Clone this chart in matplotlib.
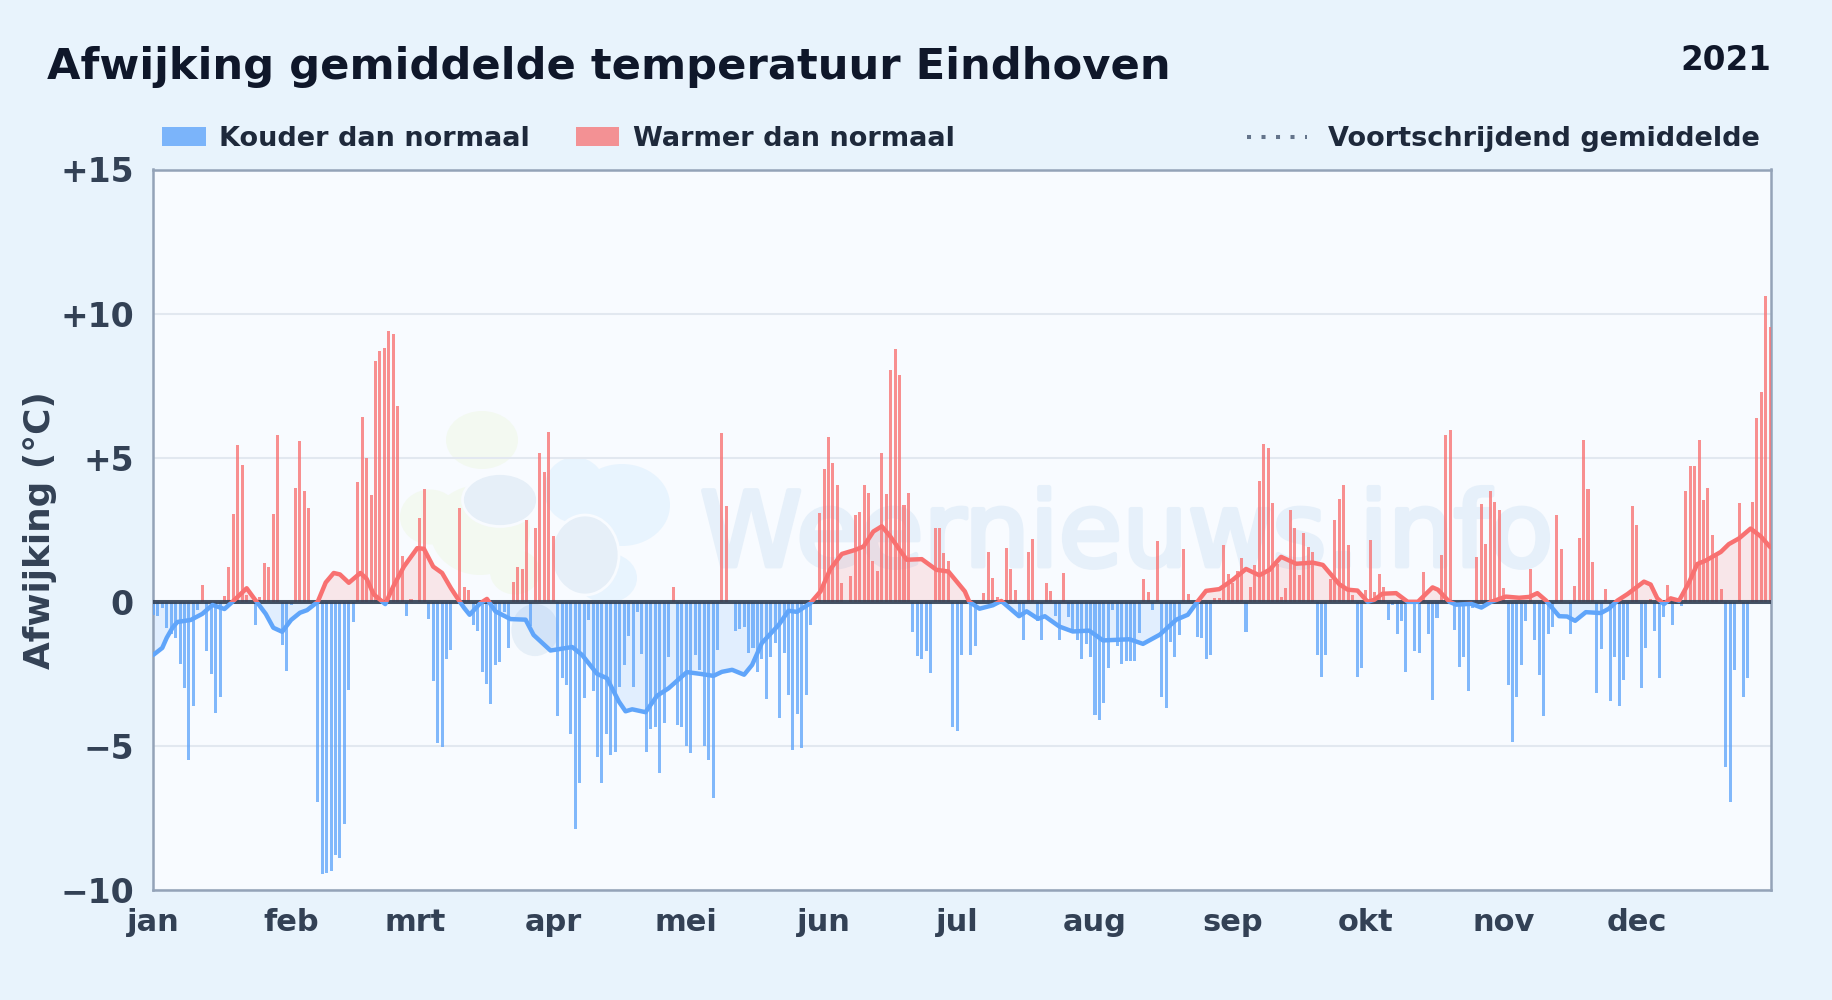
# -*- coding: utf-8 -*-
"""Afwijking gemiddelde temperatuur Eindhoven, 2021."""
import numpy as np
import matplotlib
matplotlib.use('Agg')
import matplotlib.pyplot as plt
import matplotlib.patheffects as pe
from matplotlib.lines import Line2D
from matplotlib.patches import Ellipse, Patch, Rectangle
from matplotlib.transforms import IdentityTransform

# afwijking per dag (365 waarden, 1 jan t/m 31 dec)
afwijking = [
    -0.45, -0.5, -0.2, -0.9, -1.1, -1.25, -2.15, -3.0, -5.5, -3.6,
    -0.3, 0.6, -1.7, -2.5, -3.85, -3.3, 0.2, 1.2, 3.05, 5.45,
    4.75, 0.25, 0, -0.8, 0.15, 1.35, 1.2, 3.05, 5.8, -1.5,
    -2.4, -0.1, 3.95, 5.57, 3.85, 3.25, 0, -6.95, -9.45, -9.4,
    -9.35, -8.8, -8.9, -7.7, -3.05, -0.7, 4.15, 6.4, 5.0, 3.7,
    8.35, 8.7, 8.8, 9.4, 9.3, 6.8, 1.6, -0.5, 0.1, 0,
    2.9, 3.9, -0.6, -2.75, -4.9, -5.05, -2.0, -1.67, 0, 3.25,
    0.5, 0.4, -0.8, -1.0, -2.45, -2.85, -3.55, -2.2, -2.1, -0.35,
    -1.6, 0.7, 1.2, 1.15, 2.85, -0.85, 2.55, 5.15, 4.5, 5.9,
    2.3, -3.95, -2.65, -2.87, -4.6, -7.9, -6.27, -3.35, -0.62, -3.08,
    -5.37, -6.3, -4.6, -5.32, -5.2, -2.94, -2.2, -1.17, -2.94, -0.37,
    -1.8, -5.2, -4.4, -4.33, -5.93, -4.2, -1.93, 0.5, -4.26, -4.36,
    -5.02, -5.25, -1.84, -2.36, -5.0, -5.5, -6.8, -1.67, 5.85, 3.33,
    0, -1.0, -0.95, -0.86, -1.78, -1.6, -2.42, -2.0, -3.38, -1.93,
    -1.43, -4.04, -1.76, -3.23, -5.14, -3.9, -5.08, -3.22, -0.8, 0,
    3.08, 4.62, 5.72, 4.81, 4.06, 0.65, 0, 0.9, 3.02, 3.11,
    4.06, 3.77, 1.42, 1.08, 5.16, 3.75, 8.05, 8.77, 7.88, 3.37,
    3.77, -1.06, -1.87, -1.97, -1.72, -2.48, 2.56, 2.56, 1.69, 1.41,
    -4.33, -4.47, -1.86, 0, -1.86, -1.52, 0, 0.3, 1.72, 0.82,
    0.16, 0, 1.86, 1.15, 0.42, -0.53, -1.32, 1.72, 2.17, -0.68,
    -1.34, 0.65, 0.37, -0.5, -1.34, 1.0, -0.54, -0.97, -1.32, -2.0,
    -1.45, -1.93, -3.92, -4.1, -3.5, -2.28, -0.28, -1.55, -2.15, -2.07,
    -2.07, -2.07, -1.09, 0.8, 0.34, -0.3, 2.1, -3.32, -3.7, -1.38,
    -1.9, -1.15, 1.83, 0.28, 0, -1.23, -1.27, -1.98, -1.83, 0.14,
    0.14, 1.97, 0.97, 0.65, 1.08, 1.53, -1.04, 0.53, 1.28, 4.2,
    5.48, 5.34, 3.42, 1.3, 0.17, 0.47, 3.19, 2.57, 0.94, 2.38,
    1.91, 1.72, -1.86, -2.6, -1.86, 0.8, 2.85, 3.58, 4.05, 1.98,
    0.24, -2.6, -2.28, 0.42, 2.15, 0.35, 0.97, 0.52, -0.62, -0.1,
    -1.11, -0.65, -2.42, 0, -1.69, -1.76, 1.03, -1.11, -3.4, -0.55,
    1.63, 5.8, 5.97, -0.97, -2.25, -1.9, -3.08, -0.2, 1.55, 3.4,
    2.0, 3.84, 3.47, 3.2, 0.47, -2.88, -4.85, -3.3, -2.19, -0.68,
    1.15, -1.32, -2.53, -3.97, -1.13, -0.86, 3.02, 1.83, 0, -1.13,
    0.55, 2.2, 5.63, 3.91, 1.37, -3.16, -1.65, 0.45, -3.45, -1.9,
    -3.62, -2.72, -1.93, 3.32, 2.67, -3.0, -1.61, 0.1, -1.0, -2.66,
    -0.54, 0.58, -0.79, -0.08, -0.15, 3.84, 4.71, 4.71, 5.63, 3.52,
    3.94, 2.33, 1.61, 0.45, -5.74, -6.96, -2.37, 3.42, -3.32, -2.66,
    3.46, 6.37, 7.28, 10.6, 9.53,
]

gem_dag = [
    0, 2, 3, 4.3, 5.4, 8.4, 11, 13.3, 16, 17.8, 21, 23, 25.3, 27, 29, 31, 33, 34.6, 37,
    38.8, 40.6, 42, 44, 46.6, 48, 49.6, 52.2, 54, 56.4, 59.4, 60.9, 63, 65, 67, 69, 70,
    71.2, 73.6, 75.1, 77, 80.4, 83.8, 85.6, 89.4, 94.3, 96.5, 99.9, 102.1, 104.8, 106.3,
    107.8, 110.8, 113.4, 116, 120.1, 123.1, 126.1, 128, 130.3, 133, 134.8, 137, 140.8,
    143, 144.9, 147.9, 150.2, 152.4, 155, 158, 159.9, 162.1, 164, 165.9, 169.6, 173,
    176.3, 179, 182.7, 183.7, 186, 189, 190.9, 194.9, 196.6, 199.2, 200.7, 204, 207,
    210.7, 213.8, 219.8, 222.8, 226.6, 230.3, 232.9, 234.8, 237, 240, 243, 246, 249,
    251.3, 253.9, 257.3, 261, 263.3, 267, 268.9, 271.1, 273.4, 274.9, 276.7, 279.8,
    282.4, 284.7, 288, 289.2, 291.8, 293.3, 296.7, 299, 301.2, 304.5, 307.5, 309.8,
    311.6, 313.5, 316.5, 318.3, 320.1, 322.5, 325.9, 327.7, 329.6, 331.9, 335.6, 337.1,
    338.6, 340.1, 341.6, 343.5, 345.7, 347.6, 349.5, 352.9, 354.7, 357, 359.6, 361.9, 364,
]
gem_waarde = [
    -1.84, -1.6, -1.25, -0.9, -0.7, -0.63, -0.42, -0.11, -0.25, 0, 0.47, 0.05, -0.42, -0.9, -1.04, -0.63, -0.38, -0.29, 0,
    0.67, 1.0, 0.95, 0.66, 1.0, 0.8, 0.26, -0.08, 0.53, 1.22, 1.86, 1.84, 1.22, 1.0, 0.47, 0, -0.22,
    -0.45, -0.05, 0.1, -0.33, -0.6, -0.62, -1.15, -1.69, -1.57, -1.84, -2.5, -2.65, -3.46, -3.8,
    -3.73, -3.83, -3.26, -3.0, -2.44, -2.5, -2.57, -2.43, -2.36, -2.53, -2.19, -1.43, -0.8,
    -0.31, -0.35, -0.05, 0.36, 1.13, 1.66, 1.8, 1.92, 2.44, 2.62, 2.27, 1.46, 1.48,
    1.11, 1.05, 0.36, 0, -0.24, -0.12, 0.03, -0.5, -0.33, -0.59, -0.5, -0.86, -1.03,
    -1.0, -1.34, -1.3, -1.46, -1.14, -0.62, -0.45, -0.05, 0.38, 0.44, 0.76, 1.14, 0.92,
    1.11, 1.56, 1.32, 1.36, 1.28, 0.61, 0.42, 0.39, 0, 0.07, 0.28, 0.3,
    0, 0, 0.5, 0.42, 0, -0.1, -0.07, -0.2, 0, 0.18, 0.14, 0.17,
    0.3, 0.05, -0.5, -0.51, -0.66, -0.36, -0.39, -0.24, 0.04, 0.27, 0.7, 0.6,
    0.12, -0.08, 0.12, 0.04, 0.66, 1.31, 1.43, 1.73, 2.0, 2.2, 2.54, 2.27, 1.9,
]

maand_start = [0, 31, 59, 90, 120, 151, 181, 212, 243, 273, 304, 334]
maand_label = ['jan', 'feb', 'mrt', 'apr', 'mei', 'jun', 'jul', 'aug', 'sep', 'okt', 'nov', 'dec']
y_ticks = [15, 10, 5, 0, -5, -10]
y_labels = ['+15', '+10', '+5', '0', '\u22125', '\u221210']

BLAUW = '#60a5fa'
ROOD = '#f87171'
W, H = 1832, 1000


def px(x, y):
    """Pixel van de referentie (y omlaag) naar display-coordinaten."""
    return x, H - y


fig = plt.figure(figsize=(W / 100, H / 100), dpi=100, facecolor='#e8f3fc')
ax = fig.add_axes([152.5 / W, 1 - 890 / H, (1771 - 152.5) / W, (890 - 169.5) / H], facecolor='#f8fbff')

dagen = np.arange(len(afwijking))
waarden = np.array(afwijking)
ax.bar(dagen, waarden, width=0.68, color=np.where(waarden >= 0, ROOD, BLAUW), alpha=0.78, lw=0, zorder=3)

# lijn en vulling: rood boven nul, blauw onder nul
g_x, g_y = np.array(gem_dag), np.array(gem_waarde)
ax.fill_between(g_x, g_y, 0, where=g_y >= 0, interpolate=True, color=ROOD, alpha=0.15, lw=0, zorder=2)
ax.fill_between(g_x, g_y, 0, where=g_y <= 0, interpolate=True, color=BLAUW, alpha=0.15, lw=0, zorder=2)
xlim = (-0.2, 364.2)
ylim = (-10, 15)
for kleur, onder, boven in [(ROOD, 0, ylim[1]), (BLAUW, ylim[0], 0)]:
    lijn, = ax.plot(g_x, g_y, color=kleur, lw=3.2, solid_capstyle='round', zorder=5)
    lijn.set_clip_path(Rectangle((xlim[0], onder), xlim[1] - xlim[0], boven - onder, transform=ax.transData))

ax.axhline(0, color='#334155', lw=2.9, alpha=0.9, zorder=4)
ax.set_xlim(*xlim)
ax.set_ylim(*ylim)
ax.grid(axis='y', color='#e2e8f0', lw=1.5, zorder=1)
ax.set_axisbelow(True)
for spine in ax.spines.values():
    spine.set_color('#94a3b8')
    spine.set_linewidth(1.8)

ax.set_xticks(maand_start, maand_label)
ax.set_yticks(y_ticks, y_labels)
ax.tick_params(axis='x', length=0, labelsize=22, labelcolor='#334155', pad=13)
ax.tick_params(axis='y', length=0, labelsize=23.8, labelcolor='#334155', pad=13.5)
for lab in ax.get_xticklabels() + ax.get_yticklabels():
    lab.set_fontweight('bold')
ax.set_ylabel('Afwijking (\u00b0C)', fontsize=25.8, fontweight='bold', color='#334155')
ax.yaxis.set_label_coords((57 - 152.5) / (1771 - 152.5), 0.5)

# watermerk
ax.text(700, H - 566, 'Weernieuws.info', transform=IdentityTransform(), fontsize=74.5,
        color='#e6f0fa', va='baseline', ha='left', zorder=0.6,
        path_effects=[pe.withStroke(linewidth=3.5, foreground='#e6f0fa')])
logo = [
    ('#f3f9f1', 482, 440, 72, 58), ('#f3f9f1', 430, 517, 60, 55), ('#f3f9f1', 480, 530, 100, 90),
    ('#f3f9f1', 515, 572, 50, 45),
    ('#e8f4fe', 575, 490, 62, 66), ('#e8f4fe', 622, 505, 96, 82), ('#e8f4fe', 607, 578, 60, 50),
    ('#e6eff8', 500, 500, 75, 53), ('#e6eff8', 585, 555, 68, 80), ('#e6eff8', 535, 630, 50, 55),
]
for kleur, cx, cy, w, h in logo:
    ax.add_patch(Ellipse(px(cx, cy), w, h, transform=IdentityTransform(), facecolor=kleur,
                         edgecolor='#f8fbff' if kleur == '#e6eff8' else 'none', lw=2, zorder=0.5))

# titel, jaartal en legenda
fig.text(47 / W, 1 - 67 / H, 'Afwijking gemiddelde temperatuur Eindhoven', fontsize=31.15, fontweight='bold',
         color='#0f172a', va='center', ha='left')
fig.text(1771 / W, 1 - 61 / H, '2021', fontsize=23.5, fontweight='bold', color='#0f172a', va='center', ha='right')

links = fig.legend(
    handles=[Patch(color=BLAUW, alpha=0.8, lw=0, label='Kouder dan normaal'),
             Patch(color=ROOD, alpha=0.75, lw=0, label='Warmer dan normaal')],
    loc='center left', bbox_to_anchor=(138 / W, 1 - 139 / H), ncol=2, frameon=False,
    prop={'size': 19.5, 'weight': 'bold'}, labelcolor='#1e293b', handlelength=1.6, handleheight=0.75,
    handletextpad=0.5, columnspacing=1.7)
rechts = fig.legend(
    handles=[Line2D([], [], color='#64748b', lw=2.9, ls=(0, (1, 2.6)), label='Voortschrijdend gemiddelde')],
    loc='center right', bbox_to_anchor=(1784.5 / W, 1 - 139 / H), frameon=False,
    prop={'size': 19.5, 'weight': 'bold'}, labelcolor='#1e293b', handlelength=2.2, handletextpad=0.8)

fig.savefig('out.png', dpi=100, facecolor=fig.get_facecolor())
